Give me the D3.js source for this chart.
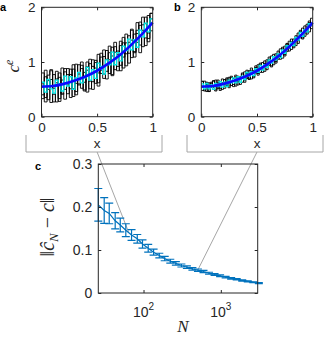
<!DOCTYPE html>
<html><head><meta charset="utf-8">
<script src="https://cdn.jsdelivr.net/npm/d3@7"></script>
<style>body{margin:0;background:#fff}svg{display:block}</style>
</head><body>
<svg id="fig" width="324" height="338"></svg>
<script>
// ---------- data ----------
const trueX = [0,0.1,0.2,0.3,0.4,0.5,0.6,0.7,0.8,0.9,1];
const trueC = [0.55,0.56,0.60,0.66,0.74,0.84,0.97,1.12,1.30,1.50,1.72];

const aBlack1 = [0.80,0.35,0.66,0.26,0.77,0.62,0.33,0.89,0.50,0.77,0.35,0.87,0.61,0.95,0.52,0.81,0.45,0.97,0.92,0.61,1.14,0.79,1.10,0.69,1.04,1.27,0.86,1.20,0.84,1.45,1.15,1.48,1.08,1.51,1.72,1.31,1.58,1.30,1.85,1.57];
const aBlack2 = [0.40,0.85,0.31,0.68,0.52,0.83,0.28,0.67,0.82,0.42,0.77,0.37,0.96,0.58,0.88,0.49,1.00,0.65,0.50,0.99,0.80,1.16,0.70,1.05,1.29,0.77,1.18,0.92,1.38,1.09,1.51,0.98,1.40,1.17,1.58,1.73,1.28,1.70,1.53,1.89];
const aBlack3 = [0.60,0.27,0.76,0.86,0.41,0.27,0.72,0.41,0.88,0.58,0.87,0.51,0.40,0.78,1.00,0.63,0.91,0.51,1.04,0.89,0.56,1.09,0.78,1.21,0.79,1.11,1.36,0.84,1.30,0.89,1.35,1.16,1.58,1.09,1.36,1.67,1.82,1.44,1.37,1.79];
const aBlack4 = [0.33,0.73,0.50,0.84,0.27,0.69,0.80,0.43,0.32,0.88,0.51,0.95,0.46,0.60,0.94,0.47,0.85,1.05,0.64,1.03,0.62,0.85,1.22,0.83,1.17,0.75,1.28,1.14,0.94,1.35,0.93,1.36,1.60,1.19,1.52,1.17,1.68,1.82,1.43,1.89];
const aCyan   = [0.63,0.45,0.68,0.51,0.43,0.67,0.60,0.47,0.74,0.56,0.73,0.50,0.71,0.81,0.62,0.71,0.90,0.67,0.86,0.70,0.98,0.92,0.78,1.04,0.95,1.18,0.95,1.17,1.02,1.29,1.21,1.42,1.22,1.41,1.27,1.58,1.46,1.71,1.55,1.79];

const bBlack1 = [0.64,0.47,0.59,0.46,0.63,0.53,0.67,0.52,0.60,0.50,0.68,0.57,0.72,0.57,0.70,0.56,0.74,0.70,0.63,0.82,0.70,0.84,0.69,0.84,0.93,0.79,0.96,0.81,0.97,0.94,1.09,0.93,1.10,0.98,1.20,1.10,1.24,1.14,1.34,1.25,1.37,1.26,1.48,1.39,1.58,1.44,1.59,1.51,1.72,1.66];
const bBlack2 = [0.48,0.65,0.46,0.62,0.54,0.65,0.47,0.63,0.51,0.69,0.56,0.69,0.53,0.74,0.59,0.73,0.58,0.73,0.80,0.67,0.85,0.68,0.85,0.73,0.80,0.95,0.81,0.99,0.83,1.04,0.94,1.11,0.95,1.15,1.05,1.24,1.07,1.29,1.19,1.38,1.23,1.42,1.30,1.53,1.44,1.62,1.47,1.69,1.55,1.80];
const bBlack3 = [0.65,0.49,0.63,0.46,0.61,0.66,0.49,0.67,0.48,0.62,0.52,0.71,0.56,0.72,0.55,0.76,0.64,0.59,0.78,0.63,0.79,0.69,0.89,0.71,0.90,0.76,0.98,0.87,1.02,0.86,1.05,0.91,1.14,1.01,1.13,1.05,1.27,1.11,1.33,1.20,1.42,1.29,1.44,1.34,1.56,1.42,1.66,1.55,1.75,1.61];
const bCyan   = [0.60,0.51,0.61,0.51,0.58,0.50,0.61,0.55,0.64,0.54,0.63,0.55,0.67,0.62,0.71,0.62,0.73,0.63,0.74,0.68,0.81,0.74,0.83,0.75,0.88,0.81,0.94,0.85,0.95,0.90,1.04,0.98,1.10,1.04,1.15,1.08,1.22,1.16,1.30,1.26,1.36,1.30,1.45,1.40,1.54,1.47,1.59,1.55,1.70,1.67];

const abXTicks = [0, 0.5, 1];
const abYTicks = [0, 1, 2];

const sampleN  = [26,31,36,43,50,59,70,83,97,115,135,160,188,222,262,309,364,429,506,597,704,830,979,1154,1361,1605,1893,2232,2632,3104];
const errMean  = [0.205,0.192,0.185,0.168,0.158,0.146,0.135,0.126,0.114,0.104,0.095,0.087,0.080,0.074,0.069,0.064,0.060,0.056,0.053,0.050,0.046,0.043,0.040,0.037,0.034,0.032,0.029,0.027,0.025,0.023];
const errStd   = [0.038,0.030,0.024,0.019,0.016,0.015,0.0125,0.010,0.0095,0.009,0.007,0.0055,0.005,0.0045,0.004,0.0035,0.003,0.003,0.0028,0.0025,0.0023,0.002,0.002,0.0018,0.0016,0.0015,0.0014,0.0013,0.0012,0.0011];
const cYTicks  = [0, 0.1, 0.2, 0.3];
const cXTicks  = [100, 1000];
const zoomN    = [64, 512];
const zoomErr  = [0.142, 0.056];

// ---------- drawing ----------
const svg = d3.select('#fig');
const AX = '#262626';
const sans = '"Liberation Sans", Arial, Helvetica, sans-serif';
const serif = '"Liberation Serif", "Times New Roman", serif';

function stairs(vals){
  const n = vals.length;
  const pts = vals.map((v,i)=>[i/n, v]);
  pts.push([1, vals[n-1]]);
  return pts;
}

function boxAxes(g, x, y, xt, yt, xfmt, yfmt, fs, xpad){
  const [x0,x1] = x.range(), [y0,y1] = y.range();
  const tl = 3;
  g.append('g').attr('transform',`translate(0,${y0})`)
    .call(d3.axisBottom(x).tickValues(xt).tickSize(-tl).tickPadding(xpad).tickFormat(xfmt));
  g.append('g').attr('transform',`translate(${x0},0)`)
    .call(d3.axisLeft(y).tickValues(yt).tickSize(-tl).tickPadding(6).tickFormat(yfmt));
  g.append('g').attr('transform',`translate(0,${y1})`)
    .call(d3.axisTop(x).tickValues(xt).tickSize(-tl).tickFormat(''));
  g.append('g').attr('transform',`translate(${x1},0)`)
    .call(d3.axisRight(y).tickValues(yt).tickSize(-tl).tickFormat(''));
  g.selectAll('.domain').remove();
  g.selectAll('.tick line').attr('stroke', AX);
  g.selectAll('.tick text').attr('fill','#262626').style('font-family', sans).style('font-size', fs+'px');
  g.append('rect').attr('x',x0).attr('y',y1).attr('width',x1-x0).attr('height',y0-y1)
    .attr('fill','none').attr('stroke',AX).attr('stroke-width',1);
}

function panelAB(left, right, blacks, cyan, label, labelX, showYLabel){
  const x = d3.scaleLinear().domain([0,1]).range([left, right]);
  const y = d3.scaleLinear().domain([0,2]).range([116.7, 7.3]);
  const g = svg.append('g');
  const line = d3.line().x(d=>x(d[0])).y(d=>y(d[1])).curve(d3.curveStepAfter);
  blacks.forEach(b=>{
    g.append('path').attr('d', line(stairs(b))).attr('fill','none').attr('stroke','#000').attr('stroke-width',0.9);
  });
  g.append('path').attr('d', line(stairs(cyan))).attr('fill','none').attr('stroke','#00e8e8').attr('stroke-width',1.3);
  const smooth = d3.line().x((d,i)=>x(trueX[i])).y(d=>y(d)).curve(d3.curveNatural);
  g.append('path').attr('d', smooth(trueC)).attr('fill','none').attr('stroke','#0a0aff').attr('stroke-width',2.6);
  boxAxes(g, x, y, abXTicks, abYTicks, d3.format('~g'), d3.format('~g'), 13.5, 6);
  g.append('text').attr('x',(left+right)/2).attr('y',147.5).attr('text-anchor','middle')
    .style('font-family',sans).style('font-size','13.5px').attr('fill','#262626').text('x');
  g.append('text').attr('x',labelX).attr('y',11).style('font-family',sans).style('font-weight','bold')
    .style('font-size','11px').text(label);
  if(showYLabel){
    const t = g.append('text').attr('transform',`translate(19,66) rotate(-90)`).attr('text-anchor','middle')
      .style('font-family',serif).style('font-style','italic').style('font-size','17px').attr('fill','#262626');
    t.append('tspan').text('c');
    t.append('tspan').attr('dy',-6).style('font-size','12px').text('e');
  }
  return x;
}

const xa = panelAB(41.5, 152.7, [aBlack1,aBlack2,aBlack3,aBlack4], aCyan, 'a', 0, true);
const xb = panelAB(201.3, 312.7, [bBlack1,bBlack2,bBlack3], bCyan, 'b', 174, false);

// panel c
const xc = d3.scaleLog().domain([26, 3000]).range([98.3, 257.7]);
const yc = d3.scaleLinear().domain([0, 0.3]).range([293, 164]);

// brackets & connectors
const gb = svg.append('g').attr('fill','none').attr('stroke','#a6a6a6').attr('stroke-width',1);
[[26,162],[187,323]].forEach(([l,r])=>{
  gb.append('path').attr('d',`M${l},135V152H${r}V135`);
});
const centers = [(xa.range()[0]+xa.range()[1])/2, (xb.range()[0]+xb.range()[1])/2];
zoomN.forEach((n,i)=>{
  gb.append('line').attr('x1',centers[i]).attr('y1',152).attr('x2',xc(n)).attr('y2',yc(zoomErr[i]));
});

const gc = svg.append('g');
const blue = '#0072BD';
const meanLine = d3.line().x((d,i)=>xc(sampleN[i])).y(d=>yc(d));
gc.append('path').attr('d',meanLine(errMean)).attr('fill','none').attr('stroke',blue).attr('stroke-width',1.2);
const cap = 4;
sampleN.forEach((n,i)=>{
  const cx = xc(n), lo = yc(errMean[i]-errStd[i]), hi = yc(errMean[i]+errStd[i]);
  gc.append('path').attr('d',`M${cx},${lo}V${hi}M${cx-cap},${lo}H${cx+cap}M${cx-cap},${hi}H${cx+cap}`)
    .attr('fill','none').attr('stroke',blue).attr('stroke-width',1.2);
});
boxAxes(gc, xc, yc, cXTicks, cYTicks, ()=>'', d3.format('~g'), 14, 7);
// log tick labels with superscripts
cXTicks.forEach(v=>{
  const t = gc.append('text').attr('x',xc(v)).attr('y',317).attr('text-anchor','middle')
    .style('font-family',sans).style('font-size','14px').attr('fill','#262626');
  t.append('tspan').text('10');
  t.append('tspan').attr('dy',-7).style('font-size','10px').text(Math.round(Math.log10(v)));
});
gc.append('text').attr('x',183).attr('y',332).attr('text-anchor','middle')
  .style('font-family',serif).style('font-style','italic').style('font-size','17px').attr('fill','#262626').text('N');
const yl = gc.append('text').attr('transform','translate(54,227) rotate(-90)').attr('text-anchor','middle')
  .style('font-family',serif).style('font-size','20px').attr('fill','#262626');
yl.append('tspan').text('\u2016');
yl.append('tspan').style('font-style','italic').text('\u0109');
yl.append('tspan').style('font-style','italic').style('font-size','13px').attr('dy',4).text('N');
yl.append('tspan').attr('dy',-4).text(' \u2212 ');
yl.append('tspan').style('font-style','italic').text('c');
yl.append('tspan').text('\u2016');
gc.append('text').attr('x',35).attr('y',170).style('font-family',sans).style('font-weight','bold')
  .style('font-size','11px').text('c');
</script>
</body></html>
